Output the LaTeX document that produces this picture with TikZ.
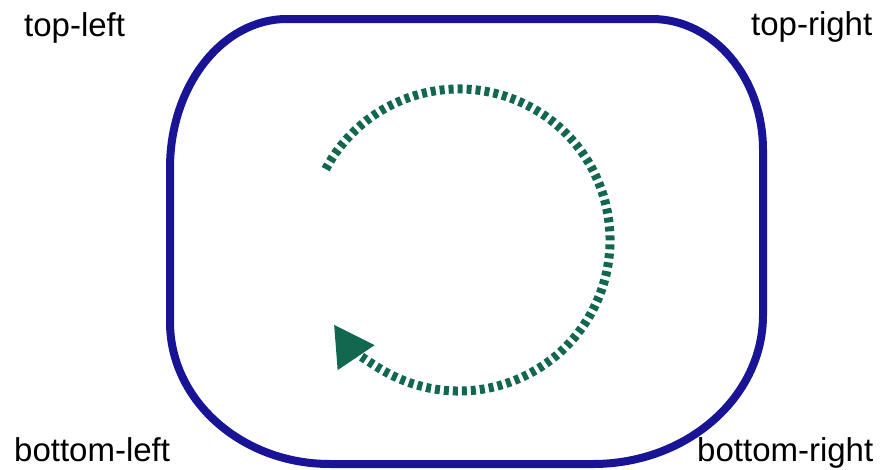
\documentclass[tikz,border=0pt]{standalone}
\usepackage{fontspec}
\setmainfont{Liberation Sans}
\usetikzlibrary{arrows.meta}
\definecolor{frameblue}{RGB}{25,20,150}
\definecolor{arcgreen}{RGB}{18,104,78}
\tikzset{
  frame/.style={draw=frameblue, line width=8pt},
  looparc/.style={draw=arcgreen, line width=9pt, dash pattern=on 5pt off 4pt,
    -{Triangle[length=40pt,width=42pt]}},
  corner/.style={inner sep=0pt, anchor=base west, font=\fontsize{33}{40}\selectfont}
}
\begin{document}
\begin{tikzpicture}[x=1pt,y=-1pt]
\useasboundingbox (0,0) rectangle (886,469);
\draw[frame] (170,168) -- (170,322)
  arc[start angle=180, end angle=90, x radius=160, y radius=142]
  -- (593,464)
  arc[start angle=90, end angle=0, x radius=170, y radius=149]
  -- (763,150)
  arc[start angle=0, end angle=-90, x radius=111, y radius=131]
  -- (287,19)
  arc[start angle=-90, end angle=-180, x radius=117, y radius=149]
  -- cycle;
\coordinate (c) at (459,240);
\draw[looparc] ([shift={(-152:151)}]c) arc[start angle=-152, end angle=146, radius=151];
\node[corner] (tl) at (24,36) {top-left};
\node[corner] (tr) at (751,35) {top-right};
\node[corner] (bl) at (14,461) {bottom-left};
\node[corner] (br) at (697,461) {bottom-right};
\end{tikzpicture}
\end{document}
